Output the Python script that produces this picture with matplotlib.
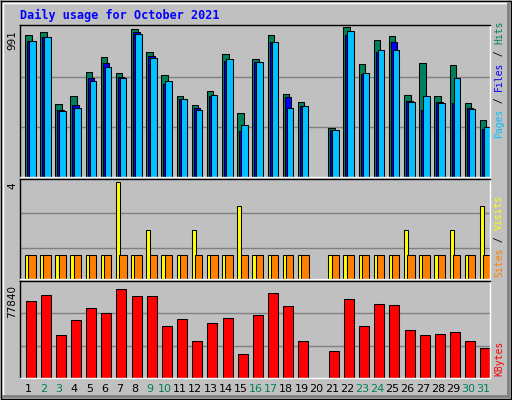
import numpy as np
import matplotlib.pyplot as plt

days = list(range(1, 32))
hits = [934, 955, 480, 534, 690, 792, 683, 975, 821, 670, 534, 473, 568, 812, 419, 778,
        934, 548, 493, 0, 324, 991, 744, 900, 928, 541, 751, 534, 738, 486, 378]
files = [894, 919, 439, 473, 649, 751, 656, 955, 799, 615, 514, 453, 534, 767, 303, 758,
         887, 527, 466, 0, 310, 934, 677, 826, 887, 500, 439, 493, 486, 453, 317]
pages = [894, 921, 432, 453, 629, 724, 649, 941, 785, 629, 514, 439, 541, 778, 344, 758,
         887, 453, 466, 0, 310, 962, 683, 833, 839, 493, 534, 486, 649, 446, 330]
visits = [1, 1, 1, 1, 1, 1, 4, 1, 2, 1, 1, 2, 1, 1, 3, 1, 1, 1, 1, 0, 1, 1, 1, 1, 1, 2, 1, 1, 2, 1, 3]
sites = [1, 1, 1, 1, 1, 1, 1, 1, 1, 1, 1, 1, 1, 1, 1, 1, 1, 1, 1, 0, 1, 1, 1, 1, 1, 1, 1, 1, 1, 1, 1]
kbytes = [63906, 69640, 36050, 48340, 58170, 54070, 74560, 68820, 68820, 43420, 49160, 31130,
          45880, 49980, 19660, 52440, 71280, 59810, 31130, 0, 22120, 65540, 43420, 61450, 60630,
          40150, 36050, 36870, 38510, 31130, 25400]
weekend = [2, 3, 9, 10, 16, 17, 23, 24, 30, 31]

W, H = 512, 400
GRAY = '#c0c0c0'
fig = plt.figure(figsize=(W / 100, H / 100), dpi=100, facecolor=GRAY)

# outer bevel
bg = fig.add_axes([0, 0, 1, 1])
bg.set_xlim(0, W); bg.set_ylim(H, 0); bg.axis('off')
bg.plot([1, W - 1, W - 1, 1, 1], [1, 1, H - 1, H - 1, 1], color='black', lw=1)
bg.plot([3, W - 4], [3, 3], color='white', lw=1)
bg.plot([3, 3], [3, H - 4], color='white', lw=1)
bg.plot([3, W - 4], [H - 4, H - 4], color='#808080', lw=2)
bg.plot([W - 4, W - 4], [3, H - 4], color='#808080', lw=2)
bg.text(20, 15, 'Daily usage for October 2021', color='#0000ff', fontsize=8.5,
        family='DejaVu Sans Mono', fontweight='bold', va='center', ha='left')

left, right = 20, 490
slot = (right - left) / 31.0


def panel(top, bottom, ymax, grids):
    ax = fig.add_axes([left / W, 1 - bottom / H, (right - left) / W, (bottom - top) / H])
    ax.set_facecolor(GRAY)
    ax.set_xlim(0, 31)
    ax.set_ylim(0, ymax)
    ax.set_xticks([]); ax.set_yticks([])
    for g in grids:
        ax.axhline(g, color='#808080', lw=1, zorder=0)
    for s in ax.spines.values():
        s.set_color('black'); s.set_linewidth(1)
    ax.spines['bottom'].set_color('white'); ax.spines['right'].set_color('white')
    return ax


def bars(ax, vals, off, width, color):
    x = [(d - 1) + (off + width / 2) / slot for d in days]
    ax.bar(x, vals, width=width / slot, color=color, edgecolor='black', linewidth=0.75, zorder=2)


ax1 = panel(25, 177, 991 * 1.01, [991 / 3, 991 * 2 / 3])
bars(ax1, hits, 5, 6.5, '#00805c')
bars(ax1, files, 7, 6.5, '#0000ff')
bars(ax1, pages, 9, 6.5, '#00c0ff')

ax2 = panel(179, 279, 4 * 1.03, [1.29, 2.73])
bars(ax2, visits, 5, 4, '#ffff00')
bars(ax2, sites, 8.3, 7.3, '#ff8000')

ax3 = panel(281, 378, 77840 * 1.04, [77840 * 1.04 / 3, 77840 * 1.04 * 2 / 3])
bars(ax3, kbytes, 5.5, 10, '#ff0000')

for d in days:
    c = '#00805c' if d in weekend else 'black'
    bg.text(left + (d - 0.5) * slot + 1, 389, str(d), color=c, fontsize=8,
            ha='center', va='center')

bg.text(12, 30, '991', rotation=90, fontsize=7.5, ha='center', va='top')
bg.text(12, 182, '4', rotation=90, fontsize=7.5, ha='center', va='top')
bg.text(12, 285, '77840', rotation=90, fontsize=7.5, ha='center', va='top')


def vlabel(x, ybottom, parts, size=7):
    cw = 0.602 * size * 100 / 72
    y = ybottom
    for txt, col in parts:
        bg.text(x, y, txt, rotation=90, color=col, fontsize=size, family='DejaVu Sans Mono',
                ha='center', va='bottom')
        y -= len(txt) * cw


vlabel(499, 138, [('Pages', '#00c0ff'), (' / ', 'black'), ('Files', '#0000ff'),
                  (' / ', 'black'), ('Hits', '#00805c')])
vlabel(499, 277, [('Sites', '#ff8000'), (' / ', 'black'), ('Visits', '#ffff00')])
vlabel(499, 376, [('KBytes', '#ff0000')])

fig.savefig('out.png', dpi=100, facecolor=GRAY)
